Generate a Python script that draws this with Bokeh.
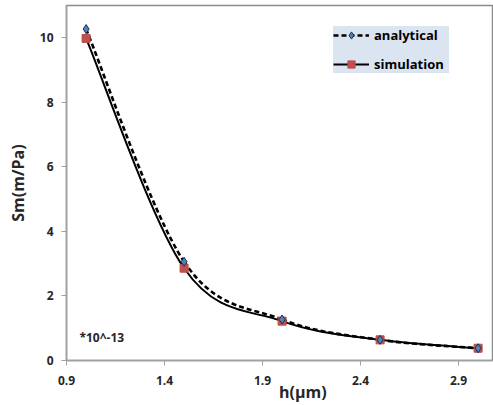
import numpy as np
from bokeh.plotting import figure
from bokeh.models import Range1d, FixedTicker, Label, Legend, LegendItem
from bokeh.embed import file_html
from bokeh.resources import INLINE

# ---- data ----
h = [1.0, 1.5, 2.0, 2.5, 3.0]
analytical = [10.27, 3.06, 1.27, 0.64, 0.38]
simulation = [9.98, 2.86, 1.22, 0.64, 0.38]
x_ticks = [0.9, 1.4, 1.9, 2.4, 2.9]
y_ticks = [0, 2, 4, 6, 8, 10]

FONT = "Open Sans"
TXT = "#262626"
GRAY = "#a0a0a0"
NB = "\u00a0"


def smooth_segments(xs, ys, t=1.0 / 6.0):
    """Cubic Bezier control points for a smoothed line through the points."""
    P = np.column_stack([xs, ys]).astype(float)
    n = len(P)
    out = dict(x0=[], y0=[], x1=[], y1=[], cx0=[], cy0=[], cx1=[], cy1=[])
    for i in range(n - 1):
        p0 = P[i - 1] if i > 0 else P[i]
        p1 = P[i]
        p2 = P[i + 1]
        p3 = P[i + 2] if i + 2 < n else P[i + 1]
        c1 = p1 + (p2 - p0) * t
        c2 = p2 - (p3 - p1) * t
        out["x0"].append(p1[0]); out["y0"].append(p1[1])
        out["x1"].append(p2[0]); out["y1"].append(p2[1])
        out["cx0"].append(c1[0]); out["cy0"].append(c1[1])
        out["cx1"].append(c2[0]); out["cy1"].append(c2[1])
    return out


p = figure(width=493, height=405, x_range=Range1d(0.9, 3.0786), y_range=Range1d(0, 11),
           output_backend="svg", toolbar_location=None,
           min_border_left=66, min_border_right=0, min_border_top=5, min_border_bottom=44)
p.outline_line_color = "#8c8c8c"
p.outline_line_width = 1.5
p.xgrid.visible = False
p.ygrid.visible = False
p.background_fill_color = "white"
p.border_fill_color = "white"

for ax in (p.xaxis[0], p.yaxis[0]):
    ax.axis_line_color = GRAY
    ax.axis_line_width = 1.5
    ax.major_tick_line_color = GRAY
    ax.major_tick_out = 5
    ax.major_tick_in = 0
    ax.minor_tick_line_color = None
    ax.major_label_text_font = FONT
    ax.major_label_text_font_style = "bold"
    ax.major_label_text_font_size = "12px"
    ax.major_label_text_color = TXT
    ax.axis_label_text_font = FONT
    ax.axis_label_text_font_style = "bold"
    ax.axis_label_text_font_size = "16px"
    ax.axis_label_text_color = TXT

p.xaxis.ticker = FixedTicker(ticks=x_ticks)
p.yaxis.ticker = FixedTicker(ticks=y_ticks)
p.xaxis.major_label_standoff = 10
p.yaxis.major_label_standoff = 8

# label sits right of centre in the reference: pad with no-break spaces
p.xaxis.axis_label = NB * 11 + "h(µm)"
p.xaxis.axis_label_standoff = -7
p.yaxis.axis_label = "Sm(m/Pa)"
p.yaxis.axis_label_standoff = 8

sa = smooth_segments(h, analytical)
ss = smooth_segments(h, simulation)

r_sim_line = p.bezier(source=ss, x0="x0", y0="y0", x1="x1", y1="y1", cx0="cx0", cy0="cy0",
                      cx1="cx1", cy1="cy1", line_color="black", line_width=2)
r_ana_line = p.bezier(source=sa, x0="x0", y0="y0", x1="x1", y1="y1", cx0="cx0", cy0="cy0",
                      cx1="cx1", cy1="cy1", line_color="black", line_width=2.6, line_dash="5 3")

r_sim_pts = p.scatter(h, simulation, marker="square", size=8, fill_color="#c0504d",
                      line_color="#b84a47", line_width=1)
r_ana_pts = p.scatter(h, analytical, marker="diamond", size=9, fill_color="#4f81bd",
                      line_color="#1f3040", line_width=1)

legend = Legend(items=[LegendItem(label="analytical", renderers=[r_ana_line, r_ana_pts]),
                       LegendItem(label="simulation", renderers=[r_sim_line, r_sim_pts])],
                location=(267, 287))
legend.background_fill_color = "#dbe5f1"
legend.background_fill_alpha = 1
legend.border_line_color = None
legend.label_text_font = FONT
legend.label_text_font_style = "bold"
legend.label_text_font_size = "13px"
legend.label_text_color = "black"
legend.padding = 6
legend.margin = 0
legend.spacing = 11
legend.glyph_width = 36
legend.glyph_height = 18
legend.label_height = 18
legend.label_width = 75
legend.label_standoff = 5
p.add_layout(legend)

p.add_layout(Label(x=0.966, y=0.71, text="*10^-13", text_font=FONT, text_font_style="bold",
                   text_font_size="12px", text_color=TXT, text_baseline="middle", text_align="left"))

open("out.html", "w").write(file_html(p, INLINE))
